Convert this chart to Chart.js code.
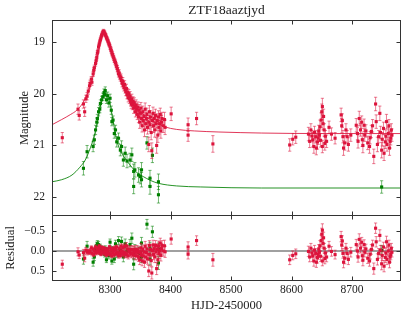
<!DOCTYPE html>
<html>
<head>
<meta charset="utf-8">
<script src="https://cdn.jsdelivr.net/npm/chart.js@4.4.1/dist/chart.umd.min.js"></script>
<style>
    html, body { margin: 0; padding: 0; background: #fff; }
    #wrap { position: relative; width: 407px; height: 318px; overflow: hidden; }
    #magChart { position: absolute; left: 0; top: 0; }
    #resChart { position: absolute; left: 0; top: 215px; }
</style>
</head>
<body>
<div id="wrap">
    <canvas id="magChart" width="407" height="216"></canvas>
    <canvas id="resChart" width="407" height="103"></canvas>
</div>
<script>
'use strict';

var timeTicks = [8300, 8400, 8500, 8600, 8700];
var magTicks = [19, 20, 21, 22];
var resTicks = [-0.5, 0, 0.5];
var resTickLabels = ['\u22120.5', '0.0', '0.5'];

// r-band photometry (HJD-2450000, mag, error, residual)
var redT = [
    8221, 8247, 8249, 8256, 8258, 8260, 8262, 8264, 8266, 8267,
    8269, 8270, 8272, 8273, 8274, 8276, 8277, 8278, 8279, 8280,
    8281, 8282, 8283, 8284, 8285, 8286, 8287, 8288, 8289, 8290,
    8291, 8292, 8293, 8294, 8295, 8296, 8297, 8298, 8299, 8300,
    8301, 8302, 8303, 8304, 8305, 8306, 8307, 8308, 8309, 8310,
    8311, 8312, 8313, 8314, 8315, 8316, 8317, 8318, 8319, 8320,
    8321, 8322, 8323, 8324, 8325, 8326, 8327, 8328, 8329, 8330,
    8331, 8332, 8333, 8334, 8335, 8336, 8337, 8338, 8339, 8340,
    8341, 8342, 8343, 8344, 8345, 8346, 8347, 8348, 8349, 8350,
    8351, 8352, 8353, 8354, 8355, 8356, 8357, 8358, 8359, 8360,
    8361, 8362, 8364, 8364, 8365, 8366, 8367, 8368, 8369, 8370,
    8371, 8372, 8373, 8374, 8375, 8376, 8377, 8378, 8379, 8380,
    8381, 8382, 8383, 8384, 8385, 8386, 8388, 8390, 8391,
    8401, 8429, 8429, 8443, 8470,
    8597, 8602, 8607, 8628, 8632, 8635, 8637, 8640, 8643, 8646,
    8647, 8649, 8650, 8651, 8653, 8654, 8655, 8651, 8662, 8672,
    8682, 8683, 8685, 8686, 8692, 8707, 8709, 8712, 8714, 8717,
    8720, 8721, 8729, 8732, 8736, 8739, 8740, 8744, 8746, 8749,
    8752, 8755, 8757, 8760, 8762, 8764, 8765,
    8630, 8634, 8638, 8641, 8644, 8645, 8648, 8652, 8656, 8658,
    8666, 8684, 8688, 8690, 8694, 8698, 8710, 8716, 8718, 8723,
    8726, 8730, 8734, 8742, 8747, 8750, 8753, 8756, 8758, 8761,
    8763, 8766
];
var redMag = [
    20.85, 20.30, 20.42, 20.20, 20.35, 20.10, 20.05, 19.95, 19.85, 19.80,
    19.72, 19.78, 19.62, 19.55, 19.50, 19.42, 19.36, 19.30, 19.22, 19.18,
    19.10, 19.05, 19.00, 18.96, 18.92, 18.88, 18.85, 18.82, 18.80, 18.81,
    18.83, 18.86, 18.88, 18.92, 18.94, 18.97, 19.00, 19.04, 19.06, 19.10,
    19.14, 19.17, 19.22, 19.24, 19.28, 19.31, 19.35, 19.38, 19.40, 19.45,
    19.48, 19.52, 19.56, 19.62, 19.60, 19.66, 19.70, 19.68, 19.75, 19.80,
    19.76, 19.84, 19.88, 19.82, 19.92, 19.96, 19.90, 20.02, 19.98, 20.08,
    20.00, 20.10, 20.05, 20.15, 20.20, 20.10, 20.22, 20.15, 20.28, 20.18,
    20.25, 20.35, 20.22, 20.30, 20.40, 20.26, 20.45, 20.32, 20.55, 20.38,
    20.28, 20.48, 20.62, 20.35, 20.52, 20.44, 20.70, 20.30, 20.58, 20.48,
    20.40, 20.65, 20.98, 20.55, 20.35, 20.60, 20.45, 20.75, 21.10, 20.52,
    20.38, 20.62, 20.48, 20.70, 20.42, 20.58, 21.00, 20.52, 20.80, 20.45,
    20.65, 20.58, 20.40, 20.72, 20.55, 20.48, 20.62, 20.50, 20.65,
    20.39, 20.60, 20.80, 20.48, 20.97,
    20.99, 20.88, 20.84, 20.78, 20.70, 20.89, 21.02, 20.83, 20.93, 20.80,
    20.64, 20.51, 20.35, 20.25, 20.44, 20.70, 20.96, 21.02, 20.65, 20.86,
    20.41, 20.62, 20.83, 21.05, 20.83, 20.61, 20.77, 20.48, 20.70, 20.89,
    20.61, 20.80, 21.02, 20.73, 21.21, 20.20, 20.54, 20.83, 20.38, 21.09,
    20.67, 20.93, 20.54, 20.77, 21.05, 20.86, 20.70,
    20.92, 20.82, 20.75, 21.05, 20.86, 20.72, 20.90, 20.58, 20.82, 20.92,
    20.78, 20.52, 20.95, 20.70, 20.98, 20.80, 20.92, 20.55, 21.00, 20.72,
    20.95, 20.85, 20.62, 20.98, 20.75, 20.88, 21.15, 20.82, 20.98, 20.62,
    20.92, 20.80
];
var redErr = [
    0.10, 0.10, 0.09, 0.08, 0.09, 0.07, 0.07, 0.06, 0.06, 0.06,
    0.05, 0.06, 0.05, 0.05, 0.05, 0.05, 0.05, 0.05, 0.05, 0.04,
    0.04, 0.04, 0.04, 0.04, 0.04, 0.04, 0.04, 0.04, 0.04, 0.04,
    0.04, 0.04, 0.04, 0.04, 0.04, 0.04, 0.04, 0.04, 0.04, 0.05,
    0.05, 0.05, 0.05, 0.05, 0.05, 0.05, 0.05, 0.05, 0.05, 0.05,
    0.05, 0.06, 0.06, 0.06, 0.06, 0.06, 0.06, 0.06, 0.06, 0.07,
    0.07, 0.07, 0.07, 0.07, 0.07, 0.08, 0.08, 0.08, 0.08, 0.08,
    0.08, 0.09, 0.09, 0.09, 0.09, 0.09, 0.09, 0.09, 0.10, 0.10,
    0.10, 0.10, 0.10, 0.10, 0.10, 0.10, 0.11, 0.11, 0.12, 0.11,
    0.11, 0.12, 0.12, 0.11, 0.12, 0.12, 0.13, 0.12, 0.13, 0.12,
    0.12, 0.13, 0.14, 0.13, 0.12, 0.13, 0.12, 0.14, 0.15, 0.13,
    0.12, 0.13, 0.12, 0.14, 0.12, 0.13, 0.15, 0.13, 0.14, 0.12,
    0.13, 0.13, 0.12, 0.14, 0.13, 0.12, 0.13, 0.14, 0.14,
    0.13, 0.13, 0.12, 0.12, 0.16,
    0.12, 0.11, 0.12, 0.13, 0.12, 0.14, 0.13, 0.12, 0.14, 0.12,
    0.13, 0.14, 0.15, 0.16, 0.14, 0.12, 0.13, 0.12, 0.12, 0.11,
    0.13, 0.14, 0.12, 0.14, 0.12, 0.13, 0.12, 0.14, 0.12, 0.13,
    0.12, 0.12, 0.13, 0.12, 0.14, 0.13, 0.13, 0.12, 0.14, 0.15,
    0.12, 0.13, 0.14, 0.12, 0.14, 0.13, 0.12,
    0.12, 0.11, 0.12, 0.13, 0.12, 0.11, 0.13, 0.12, 0.11, 0.12,
    0.12, 0.13, 0.14, 0.12, 0.13, 0.12, 0.13, 0.12, 0.14, 0.12,
    0.13, 0.12, 0.12, 0.14, 0.12, 0.13, 0.14, 0.12, 0.13, 0.12,
    0.13, 0.12
];
var redRes = [
    0.33, 0.02, 0.10, 0.04, 0.18, -0.02, 0.03, 0.02, 0.03, 0.00,
    -0.08, 0.06, -0.05, 0.09, 0.00, -0.10, 0.05, 0.03, -0.06, 0.02,
    -0.07, -0.12, 0.05, 0.00, 0.08, -0.09, 0.04, -0.05, -0.08, 0.03,
    0.07, 0.00, -0.06, 0.10, 0.02, 0.06, -0.04, 0.08, -0.10, 0.05,
    0.09, -0.03, 0.12, -0.06, 0.04, 0.00, 0.10, -0.08, -0.04, 0.06,
    -0.10, 0.03, 0.08, 0.12, -0.06, 0.05, 0.11, -0.12, 0.00, 0.07,
    -0.09, 0.04, 0.10, -0.11, 0.05, 0.08, -0.13, 0.09, -0.05, 0.12,
    -0.04, 0.02, -0.04, 0.05, 0.08, -0.04, 0.06, -0.03, 0.10, -0.02,
    0.02, 0.12, -0.04, 0.03, 0.12, -0.03, 0.15, 0.02, 0.22, 0.04,
    -0.08, 0.10, 0.25, -0.04, 0.12, 0.03, 0.28, -0.12, 0.15, 0.04,
    -0.05, 0.20, 0.50, 0.08, -0.14, 0.10, -0.04, 0.24, 0.55, 0.00,
    -0.15, 0.09, -0.06, 0.15, -0.14, 0.02, 0.44, -0.05, 0.22, -0.13,
    0.06, -0.01, -0.20, 0.11, -0.06, -0.14, 0.00, -0.13, 0.02,
    -0.30, -0.10, 0.08, -0.26, 0.22,
    0.22, 0.11, 0.07, 0.01, -0.07, 0.12, 0.25, 0.06, 0.16, 0.03,
    -0.13, -0.26, -0.42, -0.52, -0.33, -0.07, 0.19, 0.25, -0.12, 0.09,
    -0.36, -0.15, 0.06, 0.28, 0.06, -0.16, 0.00, -0.29, -0.07, 0.12,
    -0.16, 0.03, 0.25, -0.04, 0.44, -0.57, -0.23, 0.06, -0.39, 0.32,
    -0.10, 0.16, -0.23, 0.00, 0.28, 0.09, -0.07,
    0.15, 0.05, -0.02, 0.28, 0.09, -0.05, 0.13, -0.19, 0.05, 0.15,
    0.01, -0.25, 0.18, -0.07, 0.21, 0.03, 0.15, -0.22, 0.23, -0.05,
    0.18, 0.08, -0.15, 0.21, -0.02, 0.11, 0.38, 0.05, 0.21, -0.15,
    0.15, 0.03
];

// g-band photometry
var greenT = [
    8256, 8262, 8272, 8274, 8276, 8278, 8279, 8281, 8283, 8284,
    8286, 8288, 8290, 8291, 8292, 8294, 8296, 8298, 8300, 8302,
    8303, 8305, 8307, 8309, 8311, 8314, 8317, 8319, 8322, 8325,
    8328, 8333, 8336, 8339, 8339, 8341, 8347, 8350, 8352, 8352,
    8361, 8366, 8366, 8370, 8380, 8380, 8749
];
var greenMag = [
    21.44, 21.12, 21.02, 20.89, 20.70, 20.55, 20.48, 20.35, 20.30, 20.19,
    20.12, 20.06, 19.98, 20.02, 19.94, 20.12, 20.04, 20.18, 20.09, 20.32,
    20.54, 20.51, 20.77, 20.70, 20.93, 20.86, 21.09, 21.02, 21.28, 21.15,
    21.30, 21.28, 21.18, 21.50, 21.79, 21.47, 21.57, 21.60, 21.47, 21.66,
    20.95, 21.63, 21.79, 21.19, 21.70, 21.95, 21.80
];
var greenErr = [
    0.13, 0.12, 0.10, 0.09, 0.09, 0.08, 0.08, 0.08, 0.07, 0.07,
    0.07, 0.07, 0.07, 0.07, 0.07, 0.07, 0.07, 0.08, 0.08, 0.08,
    0.08, 0.08, 0.09, 0.09, 0.10, 0.10, 0.11, 0.11, 0.12, 0.12,
    0.13, 0.13, 0.13, 0.14, 0.14, 0.14, 0.14, 0.14, 0.14, 0.14,
    0.12, 0.15, 0.15, 0.14, 0.15, 0.16, 0.12
];
var greenRes = [
    0.20, -0.12, 0.28, 0.15, -0.05, -0.14, -0.18, -0.16, 0.02, -0.10,
    -0.05, 0.03, -0.03, 0.08, -0.06, 0.22, -0.02, 0.12, -0.22, -0.03,
    0.25, -0.02, 0.20, -0.18, 0.06, -0.26, -0.02, -0.24, 0.15, -0.18,
    0.00, -0.16, -0.32, 0.08, 0.33, -0.02, 0.04, 0.06, -0.20, 0.15,
    -0.67, -0.07, 0.20, -0.48, -0.05, 0.30, -0.02
];

// model curves, sampled off the figure
var redModelT = [
    8204, 8220, 8235, 8245, 8255, 8262, 8270, 8276, 8282, 8286,
    8289, 8292, 8296, 8300, 8306, 8312, 8320, 8328, 8336, 8345,
    8355, 8365, 8375, 8390, 8410, 8440, 8480, 8550, 8650, 8781
];
var redModelMag = [
    20.60, 20.50, 20.40, 20.32, 20.18, 20.02, 19.75, 19.45, 19.12, 18.92,
    18.83, 18.85, 18.95, 19.08, 19.30, 19.52, 19.78, 19.98, 20.14, 20.28,
    20.40, 20.49, 20.56, 20.64, 20.69, 20.72, 20.74, 20.76, 20.77, 20.77
];
var greenModelT = [
    8204, 8220, 8237, 8250, 8259, 8265, 8270, 8275, 8279, 8283,
    8287, 8290, 8293, 8296, 8300, 8305, 8311, 8318, 8328, 8336,
    8344, 8355, 8366, 8380, 8410, 8450, 8550, 8781
];
var greenModelMag = [
    21.70, 21.66, 21.57, 21.42, 21.28, 21.12, 20.96, 20.76, 20.57, 20.30,
    20.10, 19.99, 19.97, 20.05, 20.20, 20.52, 20.90, 21.12, 21.30, 21.42,
    21.52, 21.60, 21.67, 21.73, 21.78, 21.80, 21.82, 21.82
];

var X_MIN = 8204, X_MAX = 8781;
var RED = '#dc143c', GREEN = '#008000';
var FONT = "'Liberation Serif', 'Times New Roman', serif";
var TEXT = '#222';

function toPoints(xs, ys) {
    var out = [];
    var i;
    for (i = 0; i < xs.length; i++) {
        out.push({ x: xs[i], y: ys[i] });
    }
    return out;
}

function fixedTicks(values) {
    return function (axis) {
        axis.ticks = values.map(function (v) { return { value: v }; });
    };
}

// vertical error bars with small caps, drawn just before each dataset's points
var errorBars = {
    id: 'errorBars',
    beforeDatasetDraw: function (chart, args) {
        var ds = chart.data.datasets[args.index];
        if (!ds.errors) {
            return;
        }
        var ctx = chart.ctx, ys = chart.scales.y, a = chart.chartArea;
        var pts = args.meta.data;
        var i, x, y1, y2;
        ctx.save();
        ctx.beginPath();
        ctx.rect(a.left, a.top, a.right - a.left, a.bottom - a.top);
        ctx.clip();
        ctx.strokeStyle = ds.errorColor;
        ctx.lineWidth = 1;
        for (i = 0; i < pts.length; i++) {
            x = pts[i].x;
            y1 = ys.getPixelForValue(ds.data[i].y - ds.errors[i]);
            y2 = ys.getPixelForValue(ds.data[i].y + ds.errors[i]);
            ctx.beginPath();
            ctx.moveTo(x, y1);
            ctx.lineTo(x, y2);
            ctx.moveTo(x - 1.6, y1);
            ctx.lineTo(x + 1.6, y1);
            ctx.moveTo(x - 1.6, y2);
            ctx.lineTo(x + 1.6, y2);
            ctx.stroke();
        }
        ctx.restore();
    }
};

// box round the axes with inward ticks on all four sides, plus title / zero line
var frame = {
    id: 'frame',
    beforeDatasetsDraw: function (chart, args, opts) {
        if (!opts.zeroLine) {
            return;
        }
        var ctx = chart.ctx, a = chart.chartArea;
        var y = chart.scales.y.getPixelForValue(0);
        ctx.save();
        ctx.strokeStyle = '#808080';
        ctx.lineWidth = 1.5;
        ctx.beginPath();
        ctx.moveTo(a.left, y);
        ctx.lineTo(a.right, y);
        ctx.stroke();
        ctx.restore();
    },
    afterDraw: function (chart, args, opts) {
        var ctx = chart.ctx, a = chart.chartArea;
        var xs = chart.scales.x, ys = chart.scales.y;
        var l = Math.round(a.left) + 0.5, r = Math.round(a.right) - 0.5;
        var t = Math.round(a.top) + 0.5, b = Math.round(a.bottom) - 0.5;
        var len = 4;
        var i, p;
        ctx.save();
        ctx.strokeStyle = '#333';
        ctx.lineWidth = 1;
        ctx.strokeRect(l, t, r - l, b - t);
        ctx.beginPath();
        for (i = 0; i < timeTicks.length; i++) {
            p = Math.round(xs.getPixelForValue(timeTicks[i])) + 0.5;
            ctx.moveTo(p, t);
            ctx.lineTo(p, t + len);
            ctx.moveTo(p, b);
            ctx.lineTo(p, b - len);
        }
        for (i = 0; i < opts.yTicks.length; i++) {
            p = Math.round(ys.getPixelForValue(opts.yTicks[i])) + 0.5;
            ctx.moveTo(l, p);
            ctx.lineTo(l + len, p);
            ctx.moveTo(r, p);
            ctx.lineTo(r - len, p);
        }
        ctx.stroke();
        if (opts.title) {
            ctx.fillStyle = TEXT;
            ctx.font = '13.5px ' + FONT;
            ctx.textAlign = 'center';
            ctx.textBaseline = 'alphabetic';
            ctx.fillText(opts.title, (a.left + a.right) / 2, a.top - 6);
        }
        ctx.restore();
    }
};

function scatterSet(xs, ys, errs, color, barColor, order) {
    return {
        data: toPoints(xs, ys),
        errors: errs,
        errorColor: barColor,
        showLine: false,
        pointStyle: 'rect',
        pointRadius: 2.2,
        pointHoverRadius: 0,
        pointBorderWidth: 0,
        pointBackgroundColor: color,
        order: order
    };
}

function lineSet(xs, ys, color, order) {
    return {
        data: toPoints(xs, ys),
        showLine: true,
        pointRadius: 0,
        pointHoverRadius: 0,
        borderColor: color,
        borderWidth: 1,
        cubicInterpolationMode: 'monotone',
        order: order
    };
}

function yAxis(min, max, ticks, labels, title, titlePad) {
    return {
        type: 'linear',
        reverse: true,
        min: min,
        max: max,
        afterBuildTicks: fixedTicks(ticks),
        afterFit: function (axis) {
            axis.width = 52;
            axis.paddingTop = 0;
            axis.paddingBottom = 0;
        },
        grid: { display: false, drawTicks: false },
        border: { display: false },
        ticks: {
            autoSkip: false,
            padding: 7,
            color: TEXT,
            font: { family: FONT, size: 11.5 },
            callback: function (value) {
                var k = ticks.indexOf(value);
                return labels ? labels[k] : String(value);
            }
        },
        title: {
            display: true,
            text: title,
            color: TEXT,
            font: { family: FONT, size: 12.5 },
            padding: { top: titlePad, bottom: 0 }
        }
    };
}

var common = {
    responsive: false,
    animation: false,
    events: [],
    devicePixelRatio: 1
};

new Chart(document.getElementById('magChart'), {
    type: 'scatter',
    data: {
        datasets: [
            scatterSet(redT, redMag, redErr, RED, 'rgba(220,20,60,0.55)', 0),
            scatterSet(greenT, greenMag, greenErr, GREEN, 'rgba(0,128,0,0.55)', 1),
            lineSet(redModelT, redModelMag, 'rgba(220,20,60,0.85)', 2),
            lineSet(greenModelT, greenModelMag, 'rgba(0,128,0,0.85)', 3)
        ]
    },
    options: Object.assign({}, common, {
        layout: { autoPadding: false, padding: { left: 0, right: 6, top: 20, bottom: 0 } },
        scales: {
            x: { type: 'linear', min: X_MIN, max: X_MAX, display: false },
            y: yAxis(18.58, 22.36, magTicks, null, 'Magnitude', 17)
        },
        plugins: {
            legend: { display: false },
            tooltip: { enabled: false },
            frame: { yTicks: magTicks, title: 'ZTF18aaztjyd' }
        }
    }),
    plugins: [errorBars, frame]
});

new Chart(document.getElementById('resChart'), {
    type: 'scatter',
    data: {
        datasets: [
            scatterSet(redT, redRes, redErr, RED, 'rgba(220,20,60,0.55)', 0),
            scatterSet(greenT, greenRes, greenErr, GREEN, 'rgba(0,128,0,0.55)', 1)
        ]
    },
    options: Object.assign({}, common, {
        layout: { autoPadding: false, padding: { left: 0, right: 6, top: 0, bottom: 0 } },
        scales: {
            x: {
                type: 'linear',
                min: X_MIN,
                max: X_MAX,
                afterBuildTicks: fixedTicks(timeTicks),
                afterFit: function (axis) {
                    axis.height = 37;
                    axis.paddingLeft = 0;
                    axis.paddingRight = 0;
                },
                grid: { display: false, drawTicks: false },
                border: { display: false },
                ticks: {
                    autoSkip: false,
                    maxRotation: 0,
                    padding: 2,
                    color: TEXT,
                    font: { family: FONT, size: 11.5 },
                    callback: function (value) { return String(value); }
                },
                title: {
                    display: true,
                    text: 'HJD-2450000',
                    color: TEXT,
                    font: { family: FONT, size: 12.5 },
                    padding: { top: 0, bottom: 5 }
                }
            },
            y: yAxis(-0.9, 0.75, resTicks, resTickLabels, 'Residual', 3.5)
        },
        plugins: {
            legend: { display: false },
            tooltip: { enabled: false },
            frame: { yTicks: resTicks, zeroLine: true }
        }
    }),
    plugins: [errorBars, frame]
});
</script>
</body>
</html>
